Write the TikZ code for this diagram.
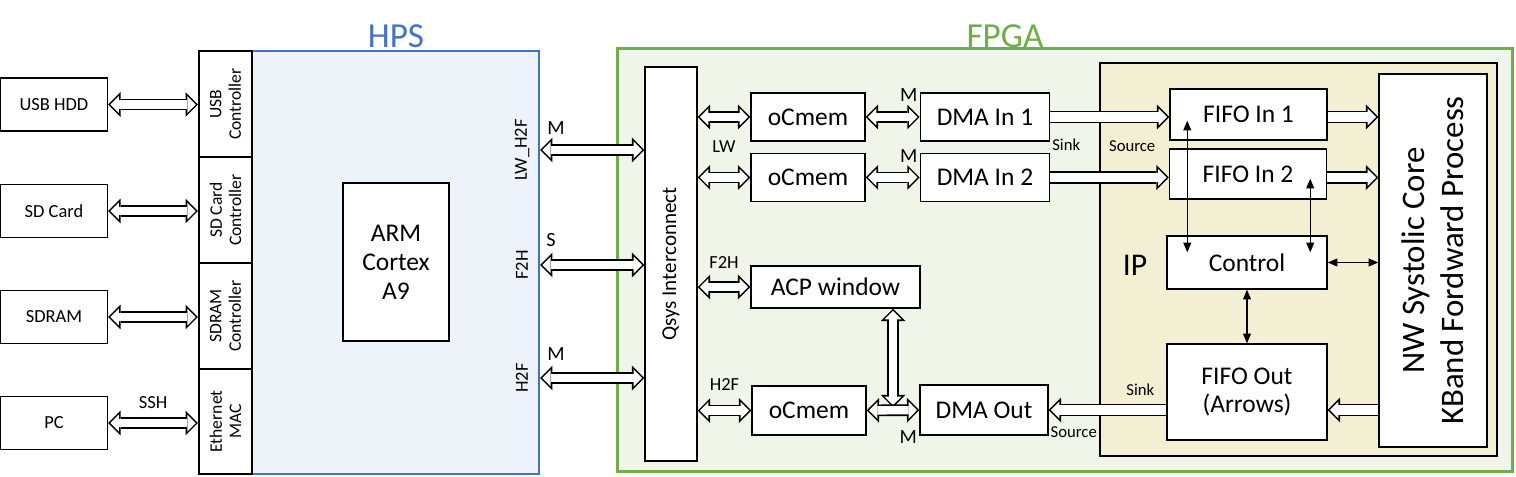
\documentclass[tikz,border=0pt]{standalone}
\usepackage{fontspec}
\setmainfont{Carlito}
\usetikzlibrary{positioning, arrows.meta, calc, backgrounds}

\definecolor{hpsblue}{HTML}{4472C4}
\definecolor{hpsfill}{HTML}{EEF3FA}
\definecolor{fpgagreen}{HTML}{70AD47}
\definecolor{fpgafill}{HTML}{F0F5EA}
\definecolor{ipfill}{HTML}{F2EFD2}

\begin{document}
\begin{tikzpicture}[
    x=0.02cm, y=-0.02cm, % one unit = one pixel of the sketch
    box/.style={
        rectangle,
        draw,
        line width=0.85pt,
        fill=white,
        align=center,
        inner sep=0pt,
        font=\fontsize{14.5}{16.5}\selectfont
    },
    dev/.style={box, minimum width=2.14cm, minimum height=1.06cm, font=\fontsize{10.5}{12}\selectfont},
    ctrl/.style={box, rotate=90, minimum width=2.12cm, minimum height=1.06cm, font=\fontsize{10}{11}\selectfont},
    region/.style={rectangle, line width=1.2pt},
    lbl/.style={inner sep=0pt, font=\fontsize{10.5}{12}\selectfont},
    port/.style={inner sep=0pt, font=\fontsize{9.5}{11}\selectfont},
    title/.style={inner sep=0pt, font=\fontsize{20}{24}\selectfont},
    % hollow block arrows: black body, white body drawn inside
    hollow/.style={
        line width=7pt,
        -{Triangle[length=7pt, width=14pt, line width=0pt]},
        postaction={draw=white, line width=5.2pt, shorten >=1.27pt,
            -{Triangle[length=4.83pt, width=9.66pt, line width=0pt]}}
    },
    dhollow/.style={
        line width=6.6pt,
        {Triangle[length=7pt, width=14pt, line width=0pt]}-{Triangle[length=7pt, width=14pt, line width=0pt]},
        postaction={draw=white, line width=4.8pt, shorten >=1.27pt, shorten <=1.27pt,
            {Triangle[length=4.83pt, width=9.66pt, line width=0pt]}-{Triangle[length=4.83pt, width=9.66pt, line width=0pt]}}
    },
    thin/.style={line width=0.6pt, {Triangle[length=5.5pt, width=4.5pt]}-{Triangle[length=5.5pt, width=4.5pt]}}
]
    \useasboundingbox (0,0) rectangle (1516,477);

    % HPS side
    \node[region, draw=hpsblue, fill=hpsfill, minimum width=6.8cm, minimum height=8.46cm] (hps) at (369,262.5) {};
    \node[title, text=hpsblue] at (396,36) {HPS};

    \node[ctrl] (usbctrl) at (225.5,104) {USB\\Controller};
    \node[ctrl] (sdctrl) at (225.5,210) {SD Card\\Controller};
    \node[ctrl] (ramctrl) at (225.5,316) {SDRAM\\Controller};
    \node[ctrl, minimum width=2.1cm] (ethmac) at (225.5,421.5) {Ethernet\\MAC};

    \node[box, minimum width=2.12cm, minimum height=3.16cm] (arm) at (396,262) {ARM\\Cortex\\A9};

    \node[dev] (usbhdd) at (54,104.5) {USB HDD};
    \node[dev] (sdcard) at (54,211) {SD Card};
    \node[dev] (sdram) at (54,317) {SDRAM};
    \node[dev] (pc) at (54,423) {PC};

    \draw[dhollow] (usbhdd.east) -- (usbhdd.east -| hps.west);
    \draw[dhollow] (sdcard.east) -- (sdcard.east -| hps.west);
    \draw[dhollow] (sdram.east) -- (sdram.east -| hps.west);
    \draw[dhollow] (pc.east) -- node[lbl, above=5pt] {SSH} (pc.east -| hps.west);

    % bridges
    \node[lbl, rotate=90] (lwh2f) at (522,150) {LW\_H2F};
    \node[lbl, rotate=90] (f2h) at (522,265) {F2H};
    \node[lbl, rotate=90] (h2f) at (522,378) {H2F};

    % FPGA side
    \node[region, line width=1.7pt, draw=fpgagreen, fill=fpgafill, minimum width=17.92cm, minimum height=8.48cm] (fpga) at (1065,260) {};
    \node[title, text=fpgagreen] at (1005,36) {FPGA};

    \node[box, rotate=90, minimum width=7.88cm, minimum height=1.04cm, font=\fontsize{12}{14}\selectfont] (qsys) at (671,264) {Qsys Interconnect};

    \draw[dhollow] (lwh2f -| hps.east) -- (lwh2f -| qsys.north);
    \draw[dhollow] (f2h -| hps.east) -- (f2h -| qsys.north);
    \draw[dhollow] (h2f -| hps.east) -- (h2f -| qsys.north);
    \node[lbl, font=\fontsize{11.5}{13}\selectfont] at ($(lwh2f)+(34,-22)$) {M};
    \node[lbl, font=\fontsize{11.5}{13}\selectfont] at ($(f2h)+(29,-25)$) {S};
    \node[lbl, font=\fontsize{11.5}{13}\selectfont] at ($(h2f)+(34,-24)$) {M};

    \node[box, minimum width=2.28cm, minimum height=0.96cm] (ocmem1) at (808,117) {oCmem};
    \node[box, minimum width=2.28cm, minimum height=0.96cm, below=0.22cm of ocmem1] (ocmem2) {oCmem};
    \node[box, minimum width=2.58cm, minimum height=0.96cm, right=1.08cm of ocmem1] (dmain1) {DMA In 1};
    \node[box, minimum width=2.58cm, minimum height=0.96cm, right=1.08cm of ocmem2] (dmain2) {DMA In 2};
    \node[box, minimum width=3.38cm, minimum height=0.84cm] (acp) at (835.5,287) {ACP window};
    \node[box, minimum width=2.28cm, minimum height=0.98cm] (ocmem3) at (809,410.5) {oCmem};
    \node[box, minimum width=2.56cm, minimum height=1cm] (dmaout) at (984,410) {DMA Out};

    \draw[dhollow] (ocmem1.west -| qsys.south) -- (ocmem1.west);
    \draw[dhollow] (ocmem2.west -| qsys.south) -- (ocmem2.west);
    \draw[dhollow] (acp.west -| qsys.south) -- (acp.west);
    \draw[dhollow] (ocmem3.west -| qsys.south) -- (ocmem3.west);
    \node[lbl] at ($(qsys.south |- ocmem1.south)!0.5!(ocmem1.south west)+(0,5)$) {LW};
    \node[lbl] at ($(qsys.south |- acp.north)!0.5!(acp.north west)+(0,-3)$) {F2H};
    \node[lbl] at ($(qsys.south |- ocmem3.north)!0.5!(ocmem3.north west)+(0,-1)$) {H2F};

    \draw[dhollow] (ocmem1) -- (dmain1);
    \draw[dhollow] (ocmem2) -- (dmain2);
    \coordinate (acpjoin) at ($(ocmem3.east)!0.5!(dmaout.west)$);
    \draw[dhollow] (acp.south -| acpjoin) -- ($(acpjoin)+(0,-3)$);
    \draw[dhollow] (ocmem3) -- (dmaout);
    \node[lbl, font=\fontsize{11.5}{13}\selectfont] at ($(dmain1.north west)+(-11,3)$) {M};
    \node[lbl, font=\fontsize{11.5}{13}\selectfont] at ($(dmain2.north west)+(-11,3)$) {M};
    \node[lbl, font=\fontsize{11.5}{13}\selectfont] at ($(dmaout.south west)+(-11,1)$) {M};

    % IP core
    \node[rectangle, draw, line width=0.85pt, fill=ipfill, minimum width=7.94cm, minimum height=7.86cm] (ip) at (1298.5,259.5) {};
    \node[inner sep=0pt, font=\fontsize{18}{20}\selectfont] at (1135,265) {IP};

    \node[box, minimum width=3.14cm, minimum height=1.02cm] (fifoin1) at (1248.5,114.5) {FIFO In 1};
    \node[box, minimum width=3.14cm, minimum height=1cm] (fifoin2) at (1248,174) {FIFO In 2};
    \node[box, minimum width=3.2cm, minimum height=1.06cm] (control) at (1247,262.5) {Control};
    \node[box, minimum width=3.2cm, minimum height=1.92cm] (fifoout) at (1247,392) {FIFO Out\\(Arrows)};
    \node[box, rotate=90, minimum width=7.46cm, minimum height=2.16cm, font=\fontsize{18.7}{22}\selectfont] (nw) at (1433,260.5) {NW Systolic Core\\KBand Fordward Process};

    \draw[hollow] (dmain1.east) -- (dmain1.east -| fifoin1.west);
    \draw[hollow] (dmain2.east) -- (dmain2.east -| fifoin2.west);
    \draw[hollow] (dmain1.east -| fifoin1.east) -- (dmain1.east -| nw.north);
    \draw[hollow] (dmain2.east -| fifoin2.east) -- (dmain2.east -| nw.north);
    \draw[hollow] (dmaout.east -| nw.north) -- (dmaout.east -| fifoout.east);
    \draw[hollow] (dmaout.east -| fifoout.west) -- (dmaout.east);

    \node[port] at ($(dmain1.south east)+(16,3)$) {Sink};
    \node[port] at ($(dmain1.south east)+(82,4)$) {Source};
    \node[port] at ($(fifoout.west)+(-26,-2)$) {Sink};
    \node[port] at ($(dmaout.south east)+(25,-4)$) {Source};

    \coordinate (c1top) at ($(fifoin1.south west)+(18,-20)$);
    \coordinate (c2top) at ($(fifoin2.south east)+(-17,-21)$);
    \draw[thin] (c1top) -- (c1top |- {$(control.north)+(0,17)$});
    \draw[thin] (c2top) -- (c2top |- {$(control.north)+(0,17)$});
    \draw[thin] (control.east) -- (control.east -| nw.north);
    \draw[thin] (control.south) -- (fifoout.north);
\end{tikzpicture}
\end{document}
